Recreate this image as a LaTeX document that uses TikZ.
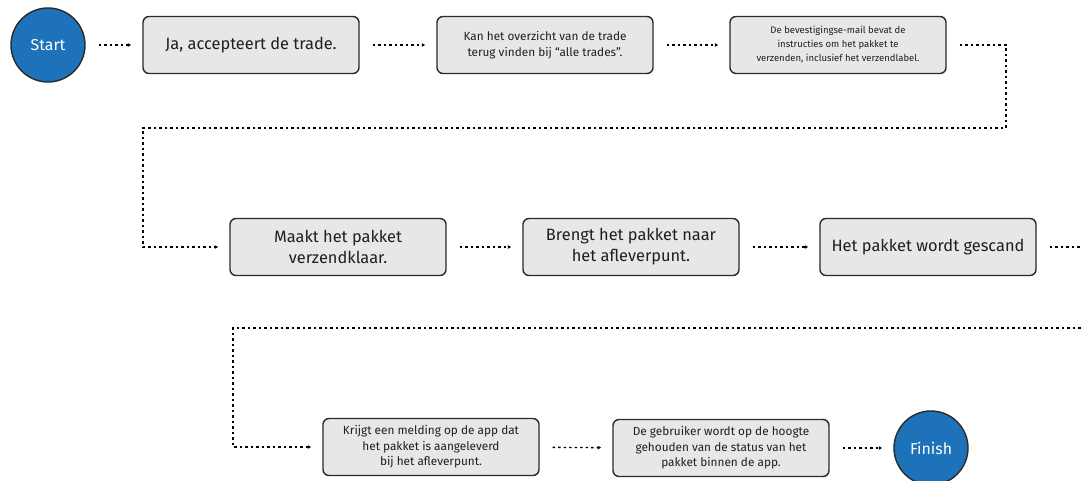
\documentclass[tikz,border=0pt]{standalone}
\usepackage{fontspec}
\setmainfont{Fira Sans}
\usepackage{xcolor}
\usetikzlibrary{arrows.meta,positioning,calc}

\definecolor{boxfill}{HTML}{E6E7E8}
\definecolor{boxline}{HTML}{2B2B2B}
\definecolor{txt}{HTML}{1F1F1F}
\definecolor{startblue}{HTML}{1E72BA}

\begin{document}
\begin{tikzpicture}[x=1pt, y=-1pt,
  box/.style={draw=boxline, fill=boxfill, line width=1.4pt, rounded corners=6pt,
              align=center, minimum height=57pt, minimum width=216pt, inner sep=2pt,
              text=txt},
  big/.style={font=\fontsize{16.4}{21}\selectfont},
  mid/.style={font=\fontsize{11.8}{15.5}\selectfont},
  sml/.style={font=\fontsize{9.5}{14}\selectfont},
  term/.style={circle, draw=boxline, fill=startblue, line width=1.4pt,
               minimum size=74pt, inner sep=0pt, text=white,
               font=\fontsize{15.8}{18}\selectfont},
  ar/.style={-{Latex[length=3.5pt,width=4pt]}, line width=1.4pt,
             dash pattern=on 2.5pt off 3pt, shorten >=11pt, shorten <=13pt}
]
\clip (0,0) rectangle (1082,481);
\fill[white] (0,0) rectangle (1082,481);

% --- row 1 -------------------------------------------------------------
\node[term]     (start) at (48,45)  {Start};
\node[box, big] (accept) at (251,45) {Ja, accepteert de trade.};
\node[box, mid] (overview) at (545,45) {Kan het overzicht van de trade\\terug vinden bij “alle trades”.};
\node[box, sml] (mail) at (838,45) {De bevestigingse-mail bevat de\\instructies om het pakket te\\verzenden, inclusief het verzendlabel.};

% --- row 2 -------------------------------------------------------------
\node[box, big] (pack)  at (338,247) {Maakt het pakket\\verzendklaar.};
\node[box, big] (bring) at (631,247) {Brengt het pakket naar\\het afleverpunt.};
\node[box, big] (scan)  at (928,247) {Het pakket wordt gescand};

% --- row 3 -------------------------------------------------------------
\node[box, mid] (notify) at (431,447) {Krijgt een melding op de app dat\\het pakket is aangeleverd\\bij het afleverpunt.};
\node[box, mid] (status) at (721,448) {De gebruiker wordt op de hoogte\\gehouden van de status van het\\pakket binnen de app.};
\node[term]     (finish) at (931,448) {Finish};

\coordinate (turnA) at (1006,128);
\coordinate (turnB) at (143,128);
\coordinate (turnC) at (1110,328);
\coordinate (turnD) at (233,328);

\draw[ar] (start)    -- (accept);
\draw[ar] (accept)   -- (overview);
\draw[ar] (overview) -- (mail);
\draw[ar] (mail.east) -| (turnA) -- (turnB) |- (pack.west);
\draw[ar] (pack)     -- (bring);
\draw[ar] (bring)    -- (scan);
\draw[ar] (scan.east) -| (turnC) -- (turnD) |- (notify.west);
\draw[ar] (notify)   -- (status);
\draw[ar] (status)   -- (finish);
\end{tikzpicture}
\end{document}
